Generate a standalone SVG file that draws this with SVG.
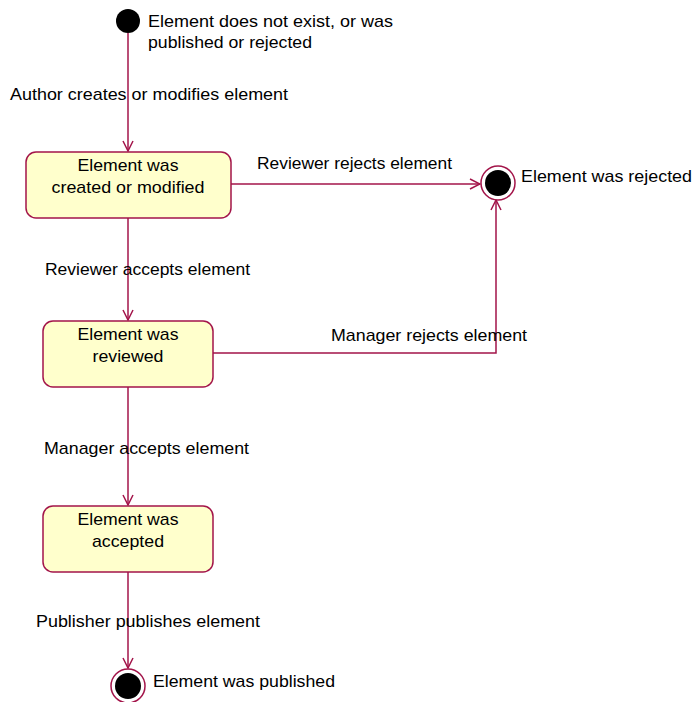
<svg xmlns="http://www.w3.org/2000/svg" width="694" height="702" viewBox="0 0 694 702">
<style>
.edge{fill:none;stroke:#A3154A;stroke-width:1.5}
.box{fill:#FFFFCC;stroke:#A3154A;stroke-width:1.5}
.t{font-family:"Liberation Sans",Arial,sans-serif;font-size:17px;fill:#000}
.c{text-anchor:middle}
.ring{fill:#fff;stroke:#A3154A;stroke-width:1.5}
</style>
<defs>
<marker id="arr" viewBox="0 0 12 12" refX="11" refY="6" markerWidth="12" markerHeight="12" markerUnits="userSpaceOnUse" orient="auto">
<path d="M1,1 L11,6 L1,11" fill="none" stroke="#A3154A" stroke-width="1.5"/>
</marker>
</defs>
<rect width="694" height="702" fill="#fff"/>
<g id="connectors">
<path class="edge" d="M128,33 V151" marker-end="url(#arr)"/>
<path class="edge" d="M231,184 H480" marker-end="url(#arr)"/>
<path class="edge" d="M128,218 V320" marker-end="url(#arr)"/>
<path class="edge" d="M213,353 H496 V200" marker-end="url(#arr)"/>
<path class="edge" d="M128,387 V505" marker-end="url(#arr)"/>
<path class="edge" d="M128,572 V668" marker-end="url(#arr)"/>
<text class="t" x="10" y="100" textLength="278" lengthAdjust="spacingAndGlyphs">Author creates or modifies element</text>
<text class="t" x="257" y="169" textLength="195" lengthAdjust="spacingAndGlyphs">Reviewer rejects element</text>
<text class="t" x="45" y="275" textLength="205" lengthAdjust="spacingAndGlyphs">Reviewer accepts element</text>
<text class="t" x="331" y="341" textLength="196" lengthAdjust="spacingAndGlyphs">Manager rejects element</text>
<text class="t" x="44" y="454" textLength="205" lengthAdjust="spacingAndGlyphs">Manager accepts element</text>
<text class="t" x="36" y="627" textLength="224" lengthAdjust="spacingAndGlyphs">Publisher publishes element</text>
</g>
<g id="initial">
<circle cx="128" cy="21" r="12" fill="#000"/>
<text class="t" x="148" y="27" textLength="245" lengthAdjust="spacingAndGlyphs">Element does not exist, or was</text>
<text class="t" x="148" y="48" textLength="164" lengthAdjust="spacingAndGlyphs">published or rejected</text>
</g>
<g id="created">
<rect class="box" x="26" y="152" width="205" height="66" rx="10"/>
<text class="t c" x="128" y="171" textLength="101" lengthAdjust="spacingAndGlyphs">Element was</text>
<text class="t c" x="128" y="193" textLength="153" lengthAdjust="spacingAndGlyphs">created or modified</text>
</g>
<g id="reviewed">
<rect class="box" x="43" y="321" width="170" height="66" rx="10"/>
<text class="t c" x="128" y="340" textLength="101" lengthAdjust="spacingAndGlyphs">Element was</text>
<text class="t c" x="128" y="362" textLength="71" lengthAdjust="spacingAndGlyphs">reviewed</text>
</g>
<g id="accepted">
<rect class="box" x="43" y="506" width="170" height="66" rx="10"/>
<text class="t c" x="128" y="525" textLength="101" lengthAdjust="spacingAndGlyphs">Element was</text>
<text class="t c" x="128" y="547" textLength="72" lengthAdjust="spacingAndGlyphs">accepted</text>
</g>
<g id="rejected">
<circle class="ring" cx="498" cy="183" r="17"/>
<circle cx="498" cy="183" r="13" fill="#000"/>
<text class="t" x="521" y="182" textLength="171" lengthAdjust="spacingAndGlyphs">Element was rejected</text>
</g>
<g id="published">
<circle class="ring" cx="128" cy="686" r="17"/>
<circle cx="128" cy="686" r="13" fill="#000"/>
<text class="t" x="153" y="687" textLength="182" lengthAdjust="spacingAndGlyphs">Element was published</text>
</g>
</svg>
